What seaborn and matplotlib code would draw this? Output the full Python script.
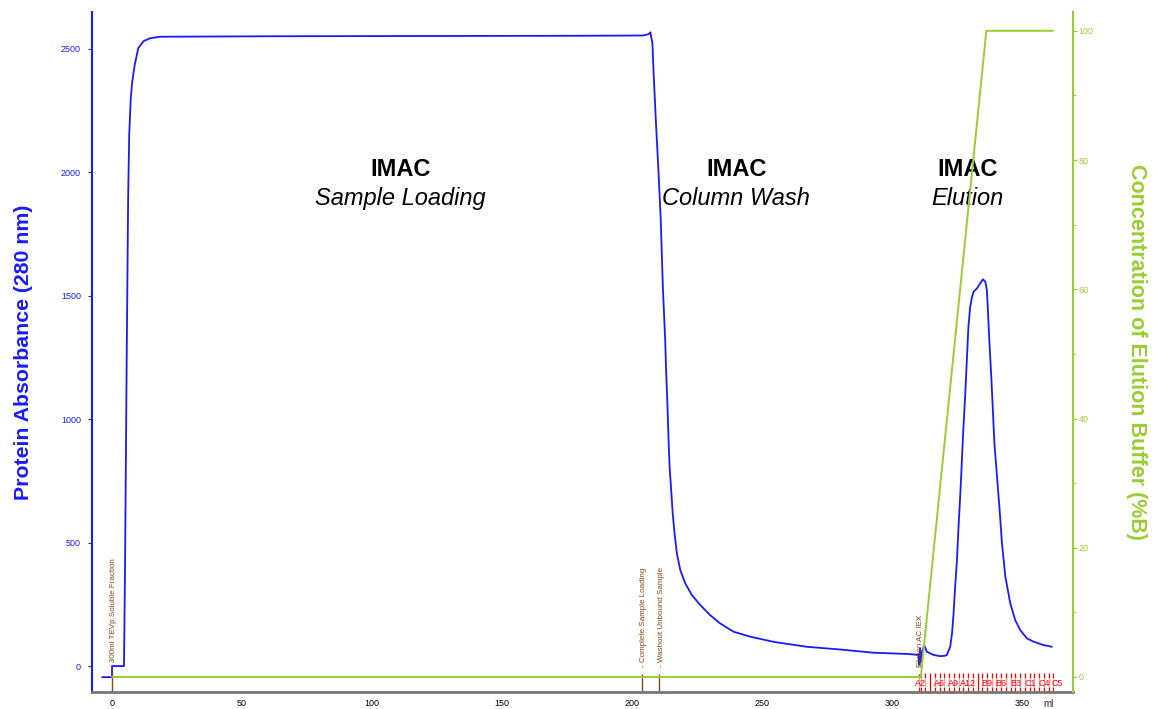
import matplotlib
matplotlib.use("Agg")
import matplotlib.pyplot as plt
import seaborn as sns

# UV 280 nm trace (ml, mAU)
uv_ml = [-3.8, 0, 0, 4.6, 5.0, 5.6, 6.2, 6.6, 7.2, 7.7, 8.7, 10.1, 12.1, 14.6, 18.5,
         60, 120, 180, 204, 205.5, 206.5, 207, 207.8, 208.2, 209.1, 210.1, 211.0,
         211.8, 212.7, 213.1, 213.6, 214.0, 214.4, 215.0, 215.6, 216.3, 217.2,
         218.5, 220.4, 223.0, 226.2, 230.0, 233.8, 239.0, 245.4, 254.4, 267.2,
         280, 292.8, 305.7, 310.1, 310.4, 310.7, 311.0, 311.5, 312.3, 313.3,
         315.9, 318.5, 320.4, 321.0, 322.3, 323.0, 323.6, 324.2, 324.9, 325.5,
         326.2, 326.8, 327.4, 328.1, 328.7, 329.3, 330.0, 330.7, 331.3, 332.6,
         333.8, 334.9, 335.8, 336.4, 336.8, 337.4, 338.1, 338.7, 339.3, 340.3,
         341.3, 342.2, 343.5, 345.4, 347.3, 349.2, 351.8, 354.3, 358.2, 361.4]
uv_mau = [-45, -45, 0, 0, 400, 1200, 1900, 2150, 2298, 2360, 2433, 2502, 2530, 2542, 2548,
          2550, 2551, 2552, 2553, 2556, 2560, 2566, 2521, 2413, 2211, 2008, 1806,
          1536, 1320, 1185, 1050, 915, 807, 713, 618, 537, 456,
          389, 335, 287, 247, 206, 173, 139, 119, 98, 78,
          67, 54, 49, 45, 5, 70, 15, 60, 85, 58,
          45, 40, 42, 45, 78, 132, 213, 321, 429, 564,
          699, 834, 969, 1104, 1239, 1374, 1455, 1495, 1516, 1529,
          1549, 1566, 1556, 1522, 1441, 1307, 1171, 1037, 902, 767,
          632, 497, 362, 254, 186, 146, 112, 99, 85, 78]

# %B gradient
conc_ml = [0, 311, 336.2, 361.8]
conc_b = [0, 0, 100, 100]

# run log events
event_ml = [0, 203.7, 210.5, 310.3]
event_text = ["- 300ml TEVp Soluble Fraction", "- Complete Sample Loading",
              "- Washout Unbound Sample", "Elution AC IEX"]

# fraction marks
frac_ml = [311.0, 312.8, 314.6, 316.5, 318.3, 320.1, 321.9, 323.7, 325.6, 327.4,
           329.2, 331.0, 332.8, 334.7, 336.5, 338.3, 340.1, 341.9, 343.8, 345.6,
           347.4, 349.2, 351.0, 352.9, 354.7, 356.5, 358.3, 360.1, 361.9]
frac_label_ml = [311.0, 318.3, 323.7, 329.2, 336.5, 341.9, 347.4, 352.9, 358.3, 363.5]
frac_labels = ["A2", "A6", "A9", "A12", "B9", "B6", "B3", "C1", "C4", "C5"]

# phase annotations
phase_ml = [111, 240, 329]
phase_names = ["Sample Loading", "Column Wash", "Elution"]

BLUE = "#1a1aff"
GREEN = "#9acd32"
BROWN = "#8b4513"

sns.set_style("white")
plt.rcParams["font.family"] = ["Liberation Sans", "DejaVu Sans"]

fig = plt.figure(figsize=(11.53, 7.09), dpi=100)
ax = fig.add_axes([0.0798, 0.024, 0.851, 0.959])
ax2 = ax.twinx()

sns.lineplot(x=uv_ml, y=uv_mau, ax=ax, color=BLUE, lw=1.3, sort=False, estimator=None)
sns.lineplot(x=conc_ml, y=conc_b, ax=ax2, color=GREEN, lw=1.4, sort=False, estimator=None)

ax.set_xlim(-7.7, 369.6)
ax.set_ylim(-105, 2648)
ax2.set_ylim(-2.32, 102.9)

ax.set_xticks([0, 50, 100, 150, 200, 250, 300, 350])
ax.set_xticks([25, 75, 125, 175, 225, 275, 325], minor=True)
ax.set_yticks([0, 500, 1000, 1500, 2000, 2500])
ax2.set_yticks([0, 20, 40, 60, 80, 100])
ax2.set_yticks([10, 30, 50, 70, 90], minor=True)

ax.tick_params(axis="x", labelsize=6.5, colors="#555555", length=3, pad=2, labelcolor="black")
ax.tick_params(axis="x", which="minor", length=2, colors="#888888")
ax.tick_params(axis="y", labelsize=6.5, colors=BLUE, length=3, pad=5)
ax2.tick_params(axis="y", labelsize=6.5, colors=GREEN, length=3, pad=1)
ax2.tick_params(axis="y", which="minor", length=2, colors=GREEN)

for a in (ax, ax2):
    for side in ("top", "left", "right", "bottom"):
        a.spines[side].set_visible(False)
ax.spines["left"].set_visible(True)
ax.spines["left"].set_color(BLUE)
ax.spines["left"].set_linewidth(1.5)
ax.spines["bottom"].set_visible(True)
ax.spines["bottom"].set_color("#777777")
ax.spines["bottom"].set_linewidth(2)
ax2.spines["right"].set_visible(True)
ax2.spines["right"].set_color(GREEN)
ax2.spines["right"].set_linewidth(1.5)

ax.set_xlabel("")
ax.set_ylabel("Protein Absorbance (280 nm)", color=BLUE, fontsize=15.3,
              fontweight="bold", labelpad=20)
ax2.set_ylabel("Concentration of Elution Buffer (%B)", color=GREEN, fontsize=15.5,
               fontweight="bold", rotation=-90, labelpad=38)
ax.text(358, -0.01, "ml", transform=ax.get_xaxis_transform(), fontsize=7,
        ha="left", va="top")

# event marks
ax.vlines(event_ml, 0, 0.027, transform=ax.get_xaxis_transform(), color=BROWN, lw=1)
for xm, txt in zip(event_ml, event_text):
    ax.text(xm + 0.6, 0.037, txt, transform=ax.get_xaxis_transform(), rotation=90,
            ha="center", va="bottom", fontsize=5.8, color=BROWN)

# fraction marks
ax.vlines(frac_ml, 0, 0.028, transform=ax.get_xaxis_transform(), color="red", lw=0.9)
for xm, lab in zip(frac_label_ml, frac_labels):
    ax.text(xm, 0.006, lab, transform=ax.get_xaxis_transform(), ha="center",
            va="bottom", fontsize=6.5, color="red",
            bbox=dict(facecolor="white", edgecolor="none", pad=0.3, alpha=0.6))

for xm, name in zip(phase_ml, phase_names):
    ax.text(xm, 2010, "IMAC", ha="center", va="center", fontsize=17,
            fontweight="bold", color="black")
    ax.text(xm, 1895, name, ha="center", va="center", fontsize=17,
            style="italic", color="black")

fig.savefig("out.png", dpi=100)
